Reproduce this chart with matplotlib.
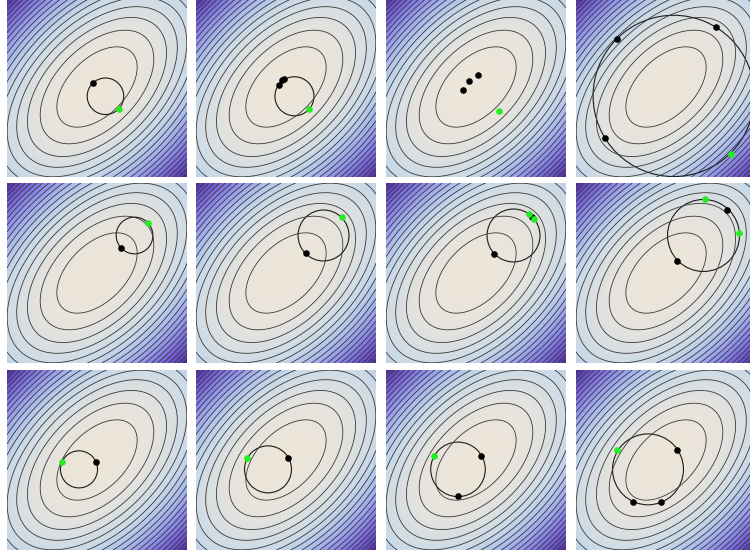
import numpy as np
import matplotlib
matplotlib.use("Agg")
import matplotlib.pyplot as plt
from matplotlib.colors import LinearSegmentedColormap

# quadratic bowl, axes rotated 45 deg (semi-axes of the f=1 ellipse)
semi_major = 0.545
semi_minor = 0.318
levels = np.arange(1, 60)

# panels, row by row: black points, green points, circle (centre, radius)
black_x = [
    [-0.041], [-0.078, -0.044, -0.022], [-0.144, -0.078, 0.022], [-0.548, 0.556, -0.678],
    [0.267], [0.222], [0.200, 0.622], [0.678, 0.122],
    [-0.014], [0.026], [0.052, -0.203], [0.122, -0.370, -0.056],
]
black_y = [
    [0.041], [0.022, 0.078, 0.089], [-0.033, 0.067, 0.133], [0.533, 0.663, -0.567],
    [0.278], [0.222], [0.208, 0.626], [0.700, 0.133],
    [-0.019], [0.022], [0.048, -0.403], [0.114, -0.467, -0.467],
]
green_x = [
    [0.241], [0.256], [0.256], [0.726],
    [0.567], [0.622], [0.589, 0.648], [0.433, 0.811],
    [-0.386], [-0.430], [-0.463], [-0.544],
]
green_y = [
    [-0.244], [-0.244], [-0.267], [-0.741],
    [0.556], [0.622], [0.656, 0.597], [0.822, 0.444],
    [-0.022], [0.022], [0.048], [0.111],
]
circle_cx = [0.094, 0.094, None, 0.086, 0.417, 0.417, 0.417, 0.417, -0.2, -0.2, -0.2, -0.2]
circle_cy = [-0.103, -0.103, None, -0.099, 0.417, 0.417, 0.417, 0.417, -0.104, -0.104, -0.104, -0.104]
circle_r = [0.203, 0.217, None, 0.896, 0.204, 0.283, 0.294, 0.400, 0.206, 0.261, 0.303, 0.394]

cmap = LinearSegmentedColormap.from_list("bowl", [
    (0 / 21, (0.93, 0.90, 0.85)),
    (2 / 21, (0.90, 0.89, 0.87)),
    (4 / 21, (0.84, 0.87, 0.89)),
    (6 / 21, (0.78, 0.85, 0.91)),
    (9 / 21, (0.66, 0.72, 0.93)),
    (12 / 21, (0.56, 0.56, 0.92)),
    (15 / 21, (0.47, 0.40, 0.86)),
    (18 / 21, (0.38, 0.26, 0.74)),
    (21 / 21, (0.28, 0.12, 0.52)),
])

xs = np.linspace(-1, 1, 300)
X, Y = np.meshgrid(xs, xs)
U = (X + Y) / np.sqrt(2)
V = (Y - X) / np.sqrt(2)
F = (U / semi_major) ** 2 + (V / semi_minor) ** 2

W, H = 750, 554
fig = plt.figure(figsize=(7.5, 5.54), dpi=100)
col_left = [7, 196, 386, 576]
row_top = [-3, 183, 370]
size = 180

for i in range(12):
    r, c = divmod(i, 4)
    ax = fig.add_axes([col_left[c] / W, 1 - (row_top[r] + size) / H, size / W, size / H])
    ax.imshow(F, extent=(-1, 1, -1, 1), origin="lower", cmap=cmap, vmin=0, vmax=21,
              interpolation="bilinear")
    ax.contour(X, Y, F, levels=levels, colors="0.22", linewidths=0.6)
    if circle_r[i] is not None:
        ax.add_patch(plt.Circle((circle_cx[i], circle_cy[i]), circle_r[i], fill=False,
                                color="0.1", lw=0.8))
    ax.scatter(black_x[i], black_y[i], s=14, color="black", zorder=5)
    ax.scatter(green_x[i], green_y[i], s=14, color="#22ee22", zorder=5)
    ax.set_xlim(-1, 1)
    ax.set_ylim(-1, 1)
    ax.set_xticks([])
    ax.set_yticks([])
    for s in ax.spines.values():
        s.set_visible(False)

fig.savefig("out.png", dpi=100)
